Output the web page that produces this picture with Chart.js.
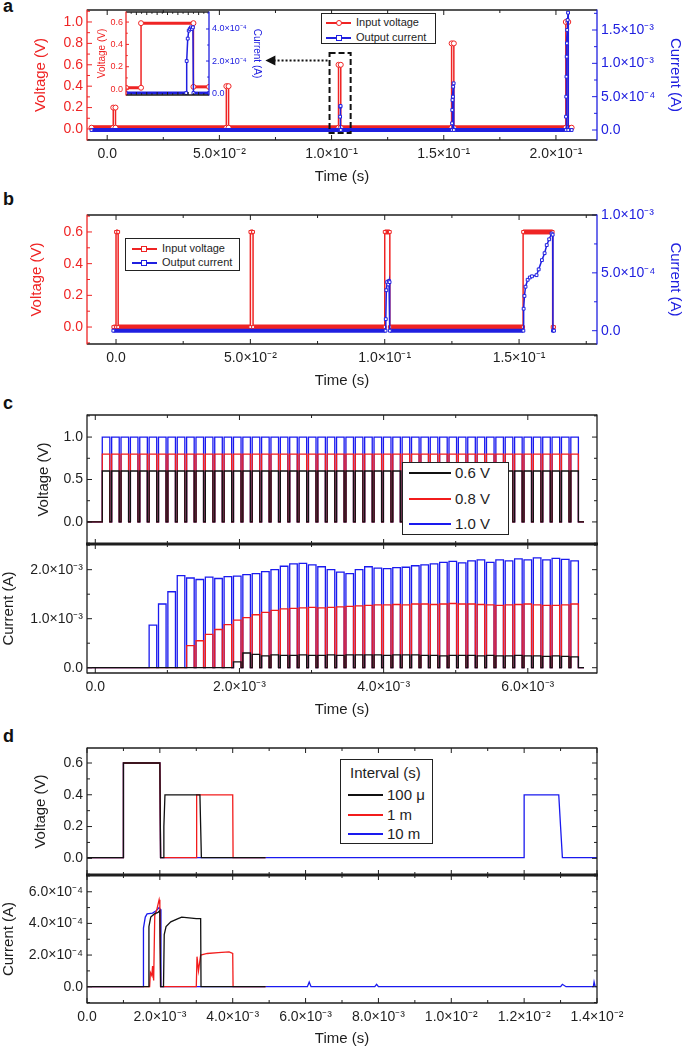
<!DOCTYPE html>
<html>
<head>
<meta charset="utf-8">
<title>Pulse response</title>
<script src="https://cdn.jsdelivr.net/npm/chart.js@4.4.1/dist/chart.umd.min.js"></script>
<style>
  body { margin: 0; width: 685px; height: 1048px; position: relative; overflow: hidden; background: #fff;
         font-family: "Liberation Sans", Arial, sans-serif; color: #1e1e1e; }
  canvas { position: absolute; }
  .tag { position: absolute; left: 3px; font-size: 18px; font-weight: bold; line-height: 18px; color: #111; }
  .leg { position: absolute; border: 1.3px solid #222; background: #fff; box-sizing: border-box; z-index: 5; }
  .leg span { position: absolute; white-space: nowrap; line-height: 1; }
  .leg .ln { position: absolute; height: 1.5px; }
  .leg .mk { position: absolute; box-sizing: border-box; background: #fff; border: 1.3px solid; }
</style>
</head>
<body>
<div class="tag" style="top:-3px">a</div>
<div class="tag" style="top:190px">b</div>
<div class="tag" style="top:394px">c</div>
<div class="tag" style="top:727px">d</div>

<div class="leg" style="left:321px;top:13px;width:115px;height:31px">
  <div class="ln" style="left:4px;top:8px;width:25px;background:#ef2424"></div>
  <div class="mk" style="left:14px;top:6px;width:6px;height:6px;border-radius:50%;border-color:#ef2424"></div>
  <span style="left:34px;top:3px;font-size:11px">Input voltage</span>
  <div class="ln" style="left:4px;top:23px;width:25px;background:#2020e0"></div>
  <div class="mk" style="left:14px;top:21px;width:6px;height:6px;border-color:#2020e0"></div>
  <span style="left:34px;top:18px;font-size:11px">Output current</span>
</div>

<div class="leg" style="left:125px;top:238px;width:115px;height:33px">
  <div class="ln" style="left:6px;top:9px;width:25px;background:#ef2424"></div>
  <div class="mk" style="left:15px;top:7px;width:6px;height:6px;border-color:#ef2424"></div>
  <span style="left:36px;top:4px;font-size:11px">Input voltage</span>
  <div class="ln" style="left:6px;top:23px;width:25px;background:#2020e0"></div>
  <div class="mk" style="left:15px;top:21px;width:6px;height:6px;border-color:#2020e0"></div>
  <span style="left:36px;top:18px;font-size:11px">Output current</span>
</div>

<div class="leg" style="left:402px;top:462px;width:107px;height:73px">
  <div class="ln" style="left:6px;top:9px;width:42px;background:#111"></div>
  <span style="left:52px;top:2px;font-size:15px">0.6 V</span>
  <div class="ln" style="left:6px;top:35px;width:42px;background:#f21c1c"></div>
  <span style="left:52px;top:28px;font-size:15px">0.8 V</span>
  <div class="ln" style="left:6px;top:60px;width:42px;background:#1a1aee"></div>
  <span style="left:52px;top:53px;font-size:15px">1.0 V</span>
</div>

<div class="leg" style="left:340px;top:759px;width:93px;height:85px">
  <span style="left:9px;top:5px;font-size:15px">Interval (s)</span>
  <div class="ln" style="left:7px;top:34px;width:35px;background:#111"></div>
  <span style="left:46px;top:27px;font-size:15px">100 μ</span>
  <div class="ln" style="left:7px;top:54px;width:35px;background:#f21c1c"></div>
  <span style="left:46px;top:47px;font-size:15px">1 m</span>
  <div class="ln" style="left:7px;top:73px;width:35px;background:#1a1aee"></div>
  <span style="left:46px;top:66px;font-size:15px">10 m</span>
</div>

<script>
const RED = '#ef2424', BLUE = '#2020e0', INK = '#1e1e1e';
const CRED = '#f21c1c', CBLUE = '#1a1aee', CBLACK = '#111';

// ---- panel a : pulses of rising amplitude (s, V, A) ----
const aTimeTicks = [0, 0.05, 0.1, 0.15, 0.2];
const aTimeLabels = ['0.0', '5.0×10⁻²', '1.0×10⁻¹', '1.5×10⁻¹', '2.0×10⁻¹'];
const aVoltTicks = [0, 0.2, 0.4, 0.6, 0.8, 1.0];
const aVoltLabels = ['0.0', '0.2', '0.4', '0.6', '0.8', '1.0'];
const aCurTicks = [0, 5e-4, 1e-3, 1.5e-3];
const aCurLabels = ['0.0', '5.0×10⁻⁴', '1.0×10⁻³', '1.5×10⁻³'];
const aPulseOn = [0.0027, 0.0531, 0.1031, 0.1535, 0.2044];
const aPulseOff = [0.0037, 0.0541, 0.1041, 0.1545, 0.2055];
const aPulseVolt = [0.2, 0.4, 0.6, 0.8, 1.0];
const aBaseVolt = 0.012;
const aSpan = [-0.007, 0.207];
const aCurTime = [-0.007, 0.1038, 0.1038, 0.1039, 0.1040, 0.1041, 0.1537, 0.1537, 0.1538, 0.1539, 0.1541, 0.1542, 0.1544, 0.1545,
                  0.2045, 0.2045, 0.2046, 0.2047, 0.2048, 0.2049, 0.2050, 0.2052, 0.2054, 0.2055, 0.207];
const aCurVal = [0, 0, 2e-4, 3.5e-4, 3.6e-4, 0, 0, 1e-4, 3e-4, 4.5e-4, 5e-4, 6.5e-4, 7e-4, 0,
                 0, 2e-4, 5e-4, 8e-4, 1.1e-3, 1.3e-3, 1.5e-3, 1.65e-3, 1.76e-3, 0, 0];

// inset of panel a (0.6 V pulse)
const inTimeTicks = [0.1030, 0.1032, 0.1034, 0.1036, 0.1038, 0.1040, 0.1042];
const inVoltTicks = [0, 0.2, 0.4, 0.6];
const inVoltLabels = ['0.0', '0.2', '0.4', '0.6'];
const inCurTicks = [0, 2e-4, 4e-4];
const inCurLabels = ['0.0', '2.0×10⁻⁴', '4.0×10⁻⁴'];
const inVoltTime = [0.1028, 0.10309, 0.10309, 0.1041, 0.1041, 0.1044];
const inVoltVal = [0.012, 0.012, 0.59, 0.59, 0.02, 0.02];
const inCurTime = [0.1028, 0.10396, 0.10397, 0.10399, 0.10401, 0.10403, 0.10405, 0.10407, 0.10409, 0.10410, 0.1044];
const inCurVal = [0, 0, 2.0e-4, 3.4e-4, 3.9e-4, 4.0e-4, 4.1e-4, 4.0e-4, 4.1e-4, 0, 0];

// ---- panel b : 0.6 V pulses of growing width ----
const bTimeTicks = [0, 0.05, 0.1, 0.15];
const bTimeLabels = ['0.0', '5.0×10⁻²', '1.0×10⁻¹', '1.5×10⁻¹'];
const bVoltTicks = [0, 0.2, 0.4, 0.6];
const bVoltLabels = ['0.0', '0.2', '0.4', '0.6'];
const bCurTicks = [0, 5e-4, 1e-3];
const bCurLabels = ['0.0', '5.0×10⁻⁴', '1.0×10⁻³'];
const bPulseOn = [0.0000, 0.0500, 0.1000, 0.1515];
const bPulseOff = [0.0008, 0.0510, 0.1019, 0.1625];
const bPulseVolt = [0.6, 0.6, 0.6, 0.6];
const bSpan = [-0.001, 0.1630];
const bCurTime = [-0.001, 0.1003, 0.1004, 0.1006, 0.1009, 0.1013, 0.1016, 0.1018, 0.1019,
                  0.1516, 0.1517, 0.1520, 0.1524, 0.1532, 0.1540, 0.1548, 0.1565, 0.1573, 0.1585, 0.1595,
                  0.1603, 0.1612, 0.1621, 0.1625, 0.1626, 0.1630];
const bCurVal = [0, 0, 1e-4, 3.5e-4, 4.2e-4, 4.0e-4, 4.3e-4, 4.2e-4, 0,
                 0, 1.9e-4, 3.0e-4, 3.8e-4, 4.4e-4, 4.6e-4, 4.7e-4, 4.8e-4, 5.3e-4, 6.1e-4, 6.7e-4,
                 7.4e-4, 7.9e-4, 8.4e-4, 8.3e-4, 0, 0];

// ---- panel c : pulse trains at 0.6 / 0.8 / 1.0 V (times in ms, current in mA) ----
const cTimeTicks = [0, 2e-3, 4e-3, 6e-3];
const cTimeLabels = ['0.0', '2.0×10⁻³', '4.0×10⁻³', '6.0×10⁻³'];
const cVoltTicks = [0, 0.5, 1.0];
const cVoltLabels = ['0.0', '0.5', '1.0'];
const cCurTicks = [0, 1e-3, 2e-3];
const cCurLabels = ['0.0', '1.0×10⁻³', '2.0×10⁻³'];
const cPulseOn = [0.097, 0.227, 0.357, 0.487, 0.617, 0.747, 0.877, 1.007, 1.137, 1.267,
                  1.397, 1.527, 1.657, 1.787, 1.917, 2.047, 2.177, 2.307, 2.437, 2.567,
                  2.697, 2.827, 2.957, 3.087, 3.217, 3.347, 3.477, 3.607, 3.737, 3.867,
                  3.997, 4.127, 4.257, 4.387, 4.517, 4.647, 4.777, 4.907, 5.037, 5.167,
                  5.297, 5.427, 5.557, 5.687, 5.817, 5.947, 6.077, 6.207, 6.337, 6.467, 6.597];
const cPulseWidth = 0.105;
const cSpan = [-0.115, 6.78];
const cVoltLevel = [0.6, 0.8, 1.0];
const cCurBlack = [0, 0, 0, 0, 0, 0, 0, 0, 0, 0, 0, 0, 0, 0,
                   0.12, 0.3, 0.27, 0.24, 0.26, 0.25, 0.25, 0.26, 0.25, 0.25, 0.26, 0.25, 0.26, 0.26, 0.26, 0.26,
                   0.25, 0.26, 0.26, 0.26, 0.25, 0.25, 0.24, 0.25, 0.25, 0.25, 0.24, 0.25, 0.24, 0.24, 0.25,
                   0.24, 0.24, 0.23, 0.24, 0.23, 0.22];
const cCurRed = [0, 0, 0, 0, 0, 0, 0, 0, 0,
                 0.45, 0.55, 0.68, 0.78, 0.88, 0.97, 1.02, 1.08, 1.13, 1.17, 1.2, 1.21, 1.22, 1.23, 1.22,
                 1.23, 1.24, 1.25, 1.26, 1.27, 1.28, 1.28, 1.29, 1.28, 1.3, 1.3, 1.29, 1.3, 1.31, 1.3, 1.3,
                 1.29, 1.28, 1.27, 1.28, 1.29, 1.3, 1.28, 1.27, 1.27, 1.28, 1.3];
const cCurBlue = [0, 0, 0, 0, 0,
                  0.87, 1.3, 1.55, 1.88, 1.83, 1.8, 1.85, 1.82, 1.86, 1.87, 1.9, 1.92, 1.96, 2.0, 2.07,
                  2.12, 2.13, 2.1, 2.06, 2.0, 1.95, 1.92, 2.0, 2.06, 2.03, 2.02, 2.04, 2.05, 2.08, 2.1,
                  2.12, 2.15, 2.17, 2.14, 2.18, 2.2, 2.15, 2.2, 2.18, 2.22, 2.2, 2.24, 2.2, 2.23, 2.21, 2.18];

// ---- panel d : paired pulses with different intervals (ms, V / A) ----
const dTimeTicks = [0, 2e-3, 4e-3, 6e-3, 8e-3, 1e-2, 1.2e-2, 1.4e-2];
const dTimeLabels = ['0.0', '2.0×10⁻³', '4.0×10⁻³', '6.0×10⁻³', '8.0×10⁻³', '1.0×10⁻²', '1.2×10⁻²', '1.4×10⁻²'];
const dVoltTicks = [0, 0.2, 0.4, 0.6];
const dVoltLabels = ['0.0', '0.2', '0.4', '0.6'];
const dCurTicks = [0, 2e-4, 4e-4, 6e-4];
const dCurLabels = ['0.0', '2.0×10⁻⁴', '4.0×10⁻⁴', '6.0×10⁻⁴'];
const dVoltBlack = [[0, 0.005], [1.0, 0.005], [1.0, 0.6], [2.0, 0.6], [2.02, 0.005], [2.1, 0.005], [2.11, 0.2], [2.14, 0.4],
                    [3.1, 0.4], [3.12, 0.2], [3.14, 0.005], [4.9, 0.005]];
const dVoltRed = [[0, 0.005], [1.0, 0.005], [1.0, 0.6], [2.0, 0.6], [2.02, 0.005], [3.0, 0.005], [3.01, 0.4], [4.0, 0.4],
                  [4.01, 0.005], [4.9, 0.005]];
const dVoltBlue = [[0, 0.005], [1.0, 0.005], [1.0, 0.6], [2.0, 0.6], [2.02, 0.005], [12.0, 0.005], [12.0, 0.4], [12.95, 0.4],
                   [13.0, 0.2], [13.05, 0.005], [14.0, 0.005]];
const dCurBlack = [[0, 0], [1.68, 0], [1.7, 3.8e-4], [1.75, 4.4e-4], [1.85, 4.6e-4], [1.95, 4.7e-4], [2.0, 4.8e-4], [2.02, 0],
                   [2.1, 0], [2.12, 3.3e-4], [2.17, 3.8e-4], [2.3, 4.1e-4], [2.5, 4.3e-4], [2.6, 4.4e-4], [2.8, 4.35e-4],
                   [3.0, 4.3e-4], [3.12, 4.3e-4], [3.13, 0], [4.9, 0]];
const dCurRed = [[0, 0], [1.72, 0], [1.74, 0.9e-4], [1.78, 0.7e-4], [1.8, 1.3e-4], [1.83, 0.4e-4], [1.86, 4.5e-4], [1.92, 4.9e-4],
                 [1.98, 5.5e-4], [2.0, 5.2e-4], [2.02, 0], [3.0, 0], [3.02, 1.9e-4], [3.06, 1.0e-4], [3.12, 2.0e-4],
                 [3.3, 2.1e-4], [3.6, 2.15e-4], [3.9, 2.2e-4], [4.0, 2.1e-4], [4.01, 0], [4.9, 0]];
const dCurBlue = [[0, 0], [1.54, 0], [1.55, 3.7e-4], [1.6, 4.4e-4], [1.65, 4.6e-4], [1.8, 4.65e-4], [1.9, 4.8e-4], [1.98, 5.0e-4],
                  [2.01, 4.9e-4], [2.03, 0], [6.05, 0], [6.1, 0.3e-4], [6.15, 0], [7.9, 0], [7.95, 0.15e-4], [8.0, 0],
                  [13.0, 0], [13.05, 0.15e-4], [13.15, 0], [13.9, 0], [13.92, 0.3e-4], [13.95, 0], [14.0, 0]];

// ---------- helpers ----------
Chart.defaults.font.family = '"Liberation Sans", Arial, sans-serif';
Chart.defaults.font.size = 14;
Chart.defaults.color = INK;

const xy = (xs, ys, k = 1, m = 1) => xs.map((x, i) => ({ x: x * k, y: ys[i] * m }));
const pairs = (list, k = 1e-3) => list.map(([t, v]) => ({ x: t * k, y: v }));

function pulseTrain(on, off, level, base, span, k = 1, m = 1) {
  const pts = [{ x: span[0] * k, y: base }];
  on.forEach((t, i) => {
    const L = (Array.isArray(level) ? level[i] : level) * m;
    pts.push({ x: t * k, y: base }, { x: t * k, y: L }, { x: off[i] * k, y: L }, { x: off[i] * k, y: base });
  });
  pts.push({ x: span[1] * k, y: base });
  return pts;
}

function minors(major, min, max) {
  const step = major[1] - major[0];
  const out = [];
  for (let i = -1; i < major.length; i++) {
    const v = (i < 0 ? major[0] - step : major[i]) + step / 2;
    if (v > min && v < max) out.push(v);
  }
  return out;
}

// flat stretches drawn as thick bands (dense markers in the original)
const band = (thick, thin) => ({ borderWidth: c => (c.p0.parsed.y === c.p1.parsed.y ? thick : thin) });

function axis(o) {
  const horiz = o.pos === 'bottom';
  return {
    type: 'linear', position: o.pos, min: o.min, max: o.max,
    grid: { display: false, drawTicks: false }, border: { display: false },
    afterBuildTicks: s => { s.ticks = o.ticks.map(v => ({ value: v })); },
    afterFit: s => {
      if (horiz) { s.height = o.size; s.paddingLeft = 0; s.paddingRight = 0; }
      else { s.width = o.size; s.paddingTop = 0; s.paddingBottom = 0; }
    },
    ticks: {
      display: !!o.labels, autoSkip: false, maxRotation: 0, padding: o.pad ?? 4,
      color: o.color || INK, font: { size: o.fs || 14 },
      callback: (v, i) => (o.labels ? o.labels[i] : '')
    },
    title: o.title
      ? { display: true, text: o.title, color: o.color || INK, font: { size: o.tfs || 15 },
          padding: { top: o.tpad || 0, bottom: o.tpad || 0 } }
      : { display: false }
  };
}

const framePlugin = {
  id: 'frame',
  afterDatasetsDraw(chart, args, o) {
    const { ctx, chartArea: ca } = chart;
    const line = (x1, y1, x2, y2) => { ctx.beginPath(); ctx.moveTo(x1, y1); ctx.lineTo(x2, y2); ctx.stroke(); };
    ctx.save();
    ctx.lineWidth = 1;
    ctx.strokeStyle = INK;
    const xs = chart.scales.x;
    const xMaj = xs.ticks.map(t => t.value);
    [[xMaj, o.tick || 5], [minors(xMaj, xs.min, xs.max), (o.tick || 5) * 0.6]].forEach(([vals, len]) => vals.forEach(v => {
      const p = xs.getPixelForValue(v);
      line(p, ca.bottom, p, ca.bottom - len);
      line(p, ca.top, p, ca.top + len);
    }));
    (o.y || []).forEach(ax => {
      const ys = chart.scales[ax.id];
      const maj = ys.ticks.map(t => t.value);
      ctx.strokeStyle = ax.color || INK;
      [[maj, o.tick || 5], [minors(maj, ys.min, ys.max), (o.tick || 5) * 0.6]].forEach(([vals, len]) => vals.forEach(v => {
        const p = ys.getPixelForValue(v);
        if (ax.side === 'left' || ax.mirror) line(ca.left, p, ca.left + len, p);
        if (ax.side === 'right' || ax.mirror) line(ca.right, p, ca.right - len, p);
      }));
    });
    ctx.lineWidth = 1.3;
    ctx.strokeStyle = INK;
    line(ca.left, ca.top, ca.right, ca.top);
    line(ca.left, ca.bottom, ca.right, ca.bottom);
    ctx.strokeStyle = o.leftColor || INK;
    line(ca.left, ca.top - 0.6, ca.left, ca.bottom + 0.6);
    ctx.strokeStyle = o.rightColor || INK;
    line(ca.right, ca.top - 0.6, ca.right, ca.bottom + 0.6);
    ctx.strokeStyle = INK;
    ctx.lineWidth = 3;
    if (o.thickTop) line(ca.left - 1, ca.top, ca.right + 1, ca.top);
    if (o.thickBottom) line(ca.left - 1, ca.bottom, ca.right + 1, ca.bottom);
    ctx.restore();
  }
};

// dashed box round the 0.6 V pulse and dotted arrow to the inset
const zoomMark = {
  id: 'zoomMark',
  afterDatasetsDraw(chart) {
    const { ctx, scales: { x, y } } = chart;
    const x0 = x.getPixelForValue(0.0991), x1 = x.getPixelForValue(0.1085);
    const y0 = y.getPixelForValue(0.71), y1 = y.getPixelForValue(-0.037);
    const ya = y.getPixelForValue(0.64), tip = x.getPixelForValue(0.0705);
    ctx.save();
    ctx.strokeStyle = '#111';
    ctx.lineWidth = 2;
    ctx.setLineDash([6, 3]);
    ctx.strokeRect(x0, y0, x1 - x0, y1 - y0);
    ctx.setLineDash([2, 2]);
    ctx.beginPath(); ctx.moveTo(x0 - 2, ya); ctx.lineTo(tip + 9, ya); ctx.stroke();
    ctx.setLineDash([]);
    ctx.fillStyle = '#111';
    ctx.beginPath(); ctx.moveTo(tip, ya); ctx.lineTo(tip + 10, ya - 5); ctx.lineTo(tip + 10, ya + 5); ctx.closePath(); ctx.fill();
    ctx.restore();
  }
};

function makeChart(pos, datasets, scales, frame, extra = []) {
  const c = document.createElement('canvas');
  c.width = pos.w; c.height = pos.h;
  c.style.left = pos.l + 'px'; c.style.top = pos.t + 'px';
  document.body.appendChild(c);
  return new Chart(c, {
    type: 'line',
    data: { datasets },
    options: {
      responsive: false, animation: false, events: [],
      layout: { padding: { top: pos.pt, left: 0, right: pos.pr || 0, bottom: 0 } },
      plugins: { legend: { display: false }, tooltip: { enabled: false }, frame },
      scales
    },
    plugins: [framePlugin, ...extra]
  });
}

const line = (data, color, o = {}) => Object.assign(
  { data, borderColor: color, backgroundColor: color, borderWidth: 1.3, pointRadius: 0, tension: 0 }, o);
const marked = (data, color, style, axisId, thick) => line(data, color, {
  yAxisID: axisId, borderWidth: 1.5, pointStyle: style, pointRadius: style === 'circle' ? 2.5 : 2,
  pointBorderColor: color, pointBackgroundColor: '#fff', pointBorderWidth: 1, segment: band(thick, 1.5)
});

// ---------- panel a ----------
makeChart({ l: 0, t: 0, w: 685, h: 190, pt: 10 }, [
  marked(xy(aCurTime, aCurVal), BLUE, 'rect', 'y2', 4),
  marked(pulseTrain(aPulseOn, aPulseOff, aPulseVolt, aBaseVolt, aSpan), RED, 'circle', 'y', 5)
], {
  x: axis({ pos: 'bottom', min: -0.009, max: 0.2183, ticks: aTimeTicks, labels: aTimeLabels, size: 50, pad: 6, title: 'Time (s)', tpad: 4 }),
  y: axis({ pos: 'left', min: -0.103, max: 1.112, ticks: aVoltTicks, labels: aVoltLabels, size: 87, color: RED, title: 'Voltage (V)', tpad: 32 }),
  y2: axis({ pos: 'right', min: -1.5e-4, max: 1.8e-3, ticks: aCurTicks, labels: aCurLabels, size: 88, color: BLUE, title: 'Current (A)', tpad: 1 })
}, { y: [{ id: 'y', side: 'left', color: RED }, { id: 'y2', side: 'right', color: BLUE }], leftColor: RED, rightColor: BLUE }, [zoomMark]);

// inset
makeChart({ l: 88, t: 0, w: 202, h: 100, pt: 12 }, [
  marked(xy(inCurTime, inCurVal), BLUE, 'rect', 'y2', 3),
  marked(xy(inVoltTime, inVoltVal), RED, 'circle', 'y', 3)
], {
  x: axis({ pos: 'bottom', min: 0.1028, max: 0.1044, ticks: inTimeTicks, size: 4 }),
  y: axis({ pos: 'left', min: -0.053, max: 0.69, ticks: inVoltTicks, labels: inVoltLabels, size: 38, color: RED, fs: 9, pad: 3, title: 'Voltage (V)', tfs: 10, tpad: 8 }),
  y2: axis({ pos: 'right', min: -1.2e-5, max: 5.06e-4, ticks: inCurTicks, labels: inCurLabels, size: 81, color: BLUE, fs: 9, pad: 3, title: 'Current (A)', tfs: 10, tpad: 27 })
}, { y: [{ id: 'y', side: 'left', color: RED }, { id: 'y2', side: 'right', color: BLUE }], leftColor: RED, rightColor: BLUE, tick: 3 });

// ---------- panel b ----------
makeChart({ l: 0, t: 200, w: 685, h: 190, pt: 15 }, [
  marked(xy(bCurTime, bCurVal), BLUE, 'rect', 'y2', 4),
  marked(pulseTrain(bPulseOn, bPulseOff, bPulseVolt, 0, bSpan), RED, 'rect', 'y', 5)
], {
  x: axis({ pos: 'bottom', min: -0.0108, max: 0.179, ticks: bTimeTicks, labels: bTimeLabels, size: 46, pad: 6, title: 'Time (s)', tpad: 0 }),
  y: axis({ pos: 'left', min: -0.107, max: 0.707, ticks: bVoltTicks, labels: bVoltLabels, size: 87, color: RED, title: 'Voltage (V)', tpad: 28 }),
  y2: axis({ pos: 'right', min: -1.15e-4, max: 1.0e-3, ticks: bCurTicks, labels: bCurLabels, size: 88, color: BLUE, title: 'Current (A)', tpad: 1 })
}, { y: [{ id: 'y', side: 'left', color: RED }, { id: 'y2', side: 'right', color: BLUE }], leftColor: RED, rightColor: BLUE });

// ---------- panel c ----------
const cPulseOff = cPulseOn.map(t => t + cPulseWidth);
makeChart({ l: 0, t: 405, w: 685, h: 139, pt: 10, pr: 88 }, [
  line(pulseTrain(cPulseOn, cPulseOff, cVoltLevel[0], 0, cSpan, 1e-3), CBLACK),
  line(pulseTrain(cPulseOn, cPulseOff, cVoltLevel[1], 0, cSpan, 1e-3), CRED),
  line(pulseTrain(cPulseOn, cPulseOff, cVoltLevel[2], 0, cSpan, 1e-3), CBLUE)
], {
  x: axis({ pos: 'bottom', min: -1.15e-4, max: 6.96e-3, ticks: cTimeTicks, size: 0 }),
  y: axis({ pos: 'left', min: -0.26, max: 1.26, ticks: cVoltTicks, labels: cVoltLabels, size: 87, title: 'Voltage (V)', tpad: 35 })
}, { y: [{ id: 'y', side: 'left', mirror: true }] });

makeChart({ l: 0, t: 535, w: 685, h: 190, pt: 9, pr: 88 }, [
  line(pulseTrain(cPulseOn, cPulseOff, cCurBlack, 0, cSpan, 1e-3, 1e-3), CBLACK),
  line(pulseTrain(cPulseOn, cPulseOff, cCurRed, 0, cSpan, 1e-3, 1e-3), CRED),
  line(pulseTrain(cPulseOn, cPulseOff, cCurBlue, 0, cSpan, 1e-3, 1e-3), CBLUE)
], {
  x: axis({ pos: 'bottom', min: -1.15e-4, max: 6.96e-3, ticks: cTimeTicks, labels: cTimeLabels, size: 52, pad: 6, title: 'Time (s)', tpad: 6 }),
  y: axis({ pos: 'left', min: -1.08e-4, max: 2.524e-3, ticks: cCurTicks, labels: cCurLabels, size: 87, title: 'Current (A)', tpad: 0 })
}, { y: [{ id: 'y', side: 'left', mirror: true }], thickTop: true });

// ---------- panel d ----------
makeChart({ l: 0, t: 738, w: 685, h: 137, pt: 10, pr: 88 }, [
  line(pairs(dVoltBlack), CBLACK),
  line(pairs(dVoltRed), CRED),
  line(pairs(dVoltBlue), CBLUE)
], {
  x: axis({ pos: 'bottom', min: 0, max: 0.014, ticks: dTimeTicks, size: 0 }),
  y: axis({ pos: 'left', min: -0.105, max: 0.6945, ticks: dVoltTicks, labels: dVoltLabels, size: 87, title: 'Voltage (V)', tpad: 32 })
}, { y: [{ id: 'y', side: 'left', mirror: true }] });

makeChart({ l: 0, t: 865, w: 685, h: 183, pt: 10, pr: 88 }, [
  line(pairs(dCurBlack), CBLACK),
  line(pairs(dCurRed), CRED),
  line(pairs(dCurBlue), CBLUE)
], {
  x: axis({ pos: 'bottom', min: 0, max: 0.014, ticks: dTimeTicks, labels: dTimeLabels, size: 45, pad: 6, title: 'Time (s)', tpad: 0 }),
  y: axis({ pos: 'left', min: -1.03e-4, max: 7.06e-4, ticks: dCurTicks, labels: dCurLabels, size: 87, title: 'Current (A)', tpad: 0 })
}, { y: [{ id: 'y', side: 'left', mirror: true }], thickTop: true });
</script>
</body>
</html>
